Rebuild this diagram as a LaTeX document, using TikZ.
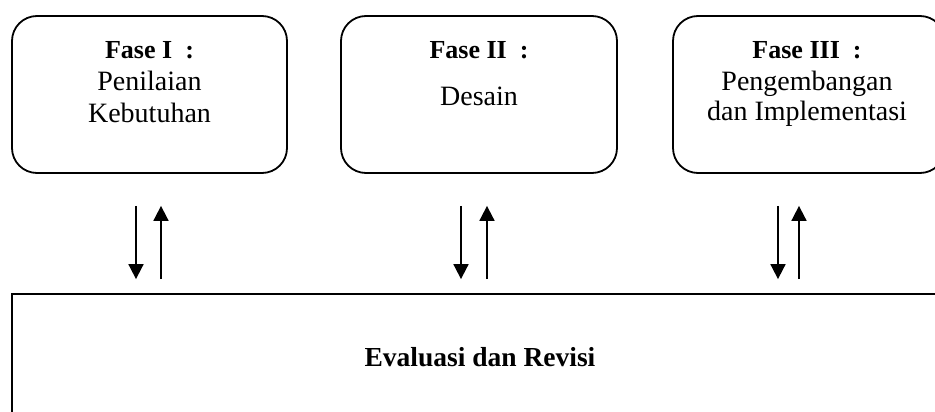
\documentclass[tikz,border=0pt]{standalone}
\usepackage{fontspec}
\setmainfont{Liberation Serif}
\usetikzlibrary{arrows.meta}
\begin{document}
\begin{tikzpicture}[x=1pt,y=-1pt,
  phase/.style={draw, line width=1.8pt, rounded corners=25pt,
    minimum height=157pt, inner sep=0pt},
  heading/.style={anchor=base, inner sep=0pt, font=\fontsize{26}{31}\selectfont\bfseries},
  body/.style={anchor=base, inner sep=0pt, font=\fontsize{28}{31}\selectfont},
  flow/.style={line width=1.8pt, -{Triangle[width=15pt,length=15pt]}},
  downflow/.style={flow, shorten <=32pt, shorten >=14pt},
  upflow/.style={flow, shorten <=14pt, shorten >=32pt}]
\useasboundingbox (0,0) rectangle (935,412);
\clip (0,0) rectangle (935,412);

% three phases
\node[phase, minimum width=275pt] (p1) at (149.5,94.5) {};
\node[phase, minimum width=276pt] (p2) at (479,94.5) {};
\node[phase, minimum width=272pt] (p3) at (809,94.5) {};

\node[heading] (h1) at (149.5,59) {Fase I\ \ :};
\node[body] (l1a) at (149.5,91) {Penilaian};
\node[body] (l1b) at (149.5,122) {Kebutuhan};

\node[heading] (h2) at (479,59) {Fase II\ \ :};
\node[body] (l2a) at (479,106) {Desain};

\node[heading] (h3) at (807,59) {Fase III\ \ :};
\node[body] (l3a) at (807,91) {Pengembangan};
\node[body] (l3b) at (807,121) {dan Implementasi};

% evaluation stage, running past the page edges
\node[draw, line width=1.8pt, minimum width=948pt, minimum height=146pt, inner sep=0pt]
  (ev) at (486,367) {};
\node[heading, font=\fontsize{27.5}{31}\selectfont\bfseries] (evt) at (480,366) {Evaluasi dan Revisi};

% two-way links between each phase and the evaluation
\draw[downflow] ([xshift=-13.5pt]p1.south) -- ([xshift=-13.5pt]p1.south |- ev.north);
\draw[upflow]   ([xshift=11.5pt]p1.south |- ev.north) -- ([xshift=11.5pt]p1.south);

\draw[downflow] ([xshift=-18pt]p2.south) -- ([xshift=-18pt]p2.south |- ev.north);
\draw[upflow]   ([xshift=8pt]p2.south |- ev.north) -- ([xshift=8pt]p2.south);

\draw[downflow] ([xshift=-31pt]p3.south) -- ([xshift=-31pt]p3.south |- ev.north);
\draw[upflow]   ([xshift=-10pt]p3.south |- ev.north) -- ([xshift=-10pt]p3.south);
\end{tikzpicture}
\end{document}
